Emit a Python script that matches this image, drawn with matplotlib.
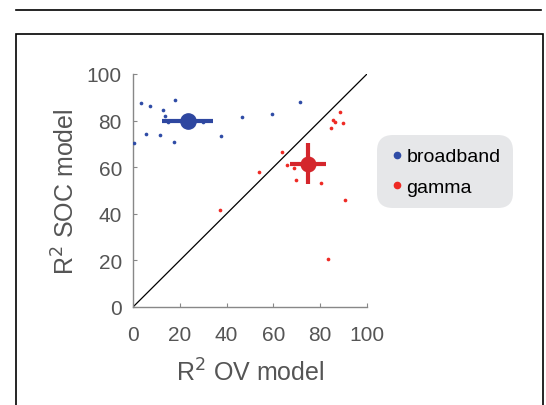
import numpy as np
import matplotlib
matplotlib.use('Agg')
import matplotlib.pyplot as plt
from matplotlib.lines import Line2D
from matplotlib.patches import Rectangle

plt.rcParams['font.family'] = ['Liberation Sans', 'DejaVu Sans']

# R^2 values (%)
bb_ov = [3.5, 7.4, 12.8, 17.9, 13.7, 15.1, 29.9, 5.6, 11.7, 17.7, 0.6, 46.4, 37.7, 59.5, 71.4]
bb_soc = [87.5, 86.4, 84.7, 89.0, 81.8, 79.3, 79.5, 74.4, 73.7, 71.0, 70.4, 81.4, 73.5, 82.8, 87.9]

ga_ov = [63.8, 53.8, 65.8, 68.9, 69.7, 80.2, 90.6, 37.3, 83.3, 88.3, 85.3, 86.3, 89.6, 84.7]
ga_soc = [66.7, 58.1, 60.9, 59.5, 54.5, 53.4, 45.9, 41.5, 20.6, 83.7, 80.1, 79.3, 78.8, 76.7]

# means and spread
bb_mean = (23.4, 80.0)
bb_err = (10.9, 1.2)
ga_mean = (74.8, 61.5)
ga_err = (7.7, 8.8)

blue = '#2f4ca6'
blue_dark = '#2e47a0'
red = '#ee2a24'
red_dark = '#d4262c'
grey = '#555555'

fig = plt.figure(figsize=(5.46, 4.06), dpi=100)

# frame lines around the panel
fig.add_artist(Line2D([16/546, 541/546], [1 - 10.7/406, 1 - 10.7/406], color='black', lw=1.2))
fig.add_artist(Rectangle((16/546, -0.05), (543 - 16)/546, 1.05 - 35/406,
                         fill=False, edgecolor='black', lw=1.2))

ax = fig.add_axes([133/546, 1 - 308/406, 234/546, 233/406])

ax.plot([0, 100], [0, 100], color='black', lw=0.9, zorder=1)

ax.scatter(bb_ov, bb_soc, s=7, color=blue, zorder=3, linewidths=0)
ax.scatter(ga_ov, ga_soc, s=7, color=red, zorder=3, linewidths=0)

ax.errorbar(bb_mean[0], bb_mean[1], xerr=bb_err[0], yerr=bb_err[1], fmt='o',
            color=blue_dark, ms=11, elinewidth=3, capsize=0, zorder=4)
ax.errorbar(ga_mean[0], ga_mean[1], xerr=ga_err[0], yerr=ga_err[1], fmt='o',
            color=red_dark, ms=10.5, elinewidth=3, capsize=0, zorder=4)

ax.set_xlim(0, 100)
ax.set_ylim(0, 100)
ax.set_xticks(np.arange(0, 101, 20))
ax.set_yticks(np.arange(0, 101, 20))
for s in ['top', 'right']:
    ax.spines[s].set_visible(False)
for s in ['left', 'bottom']:
    ax.spines[s].set_color('#888888')
    ax.spines[s].set_linewidth(1.0)
ax.tick_params(direction='in', length=3, color='#888888', labelsize=15,
               labelcolor=grey, pad=8)
ax.tick_params(axis='x', pad=13)
ax.set_xlabel('R$^2$ OV model', fontsize=18, color=grey, labelpad=10)
ax.set_ylabel('R$^2$ SOC model', fontsize=18, color=grey, labelpad=5)

# legend handles
hb = Line2D([], [], marker='o', ls='', color=blue, ms=4.5)
hg = Line2D([], [], marker='o', ls='', color=red, ms=4.5)
leg = fig.legend([hb, hg], ['broadband', 'gamma'], loc='upper left',
                 bbox_to_anchor=(383/546, 1 - 142/406), frameon=True, fancybox=True,
                 facecolor='#e6e7e9', edgecolor='none', framealpha=1,
                 fontsize=14, handletextpad=0.15, handlelength=0.7,
                 borderpad=0.35, labelspacing=0.65, borderaxespad=0)
leg.get_frame().set_boxstyle('round', pad=0.3, rounding_size=0.8)

fig.savefig('out.png', dpi=100)
